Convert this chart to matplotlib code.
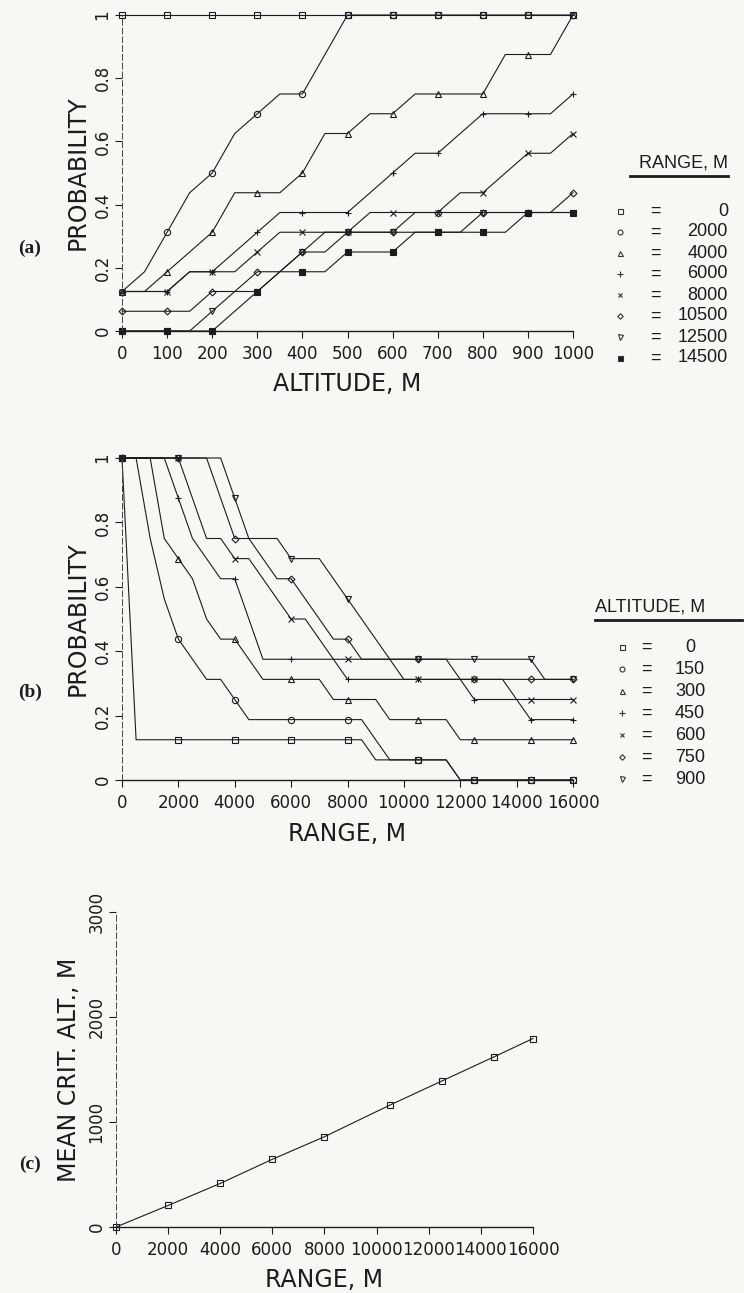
import matplotlib.pyplot as plt
from matplotlib.lines import Line2D
from matplotlib.ticker import FuncFormatter

W, H = 744, 1293
INK = '#1c1c1c'

# ---------------- panel (a): probability vs altitude, one curve per range
alt_a = [0, 50, 100, 150, 200, 250, 300, 350, 400, 450, 500,
         550, 600, 650, 700, 750, 800, 850, 900, 950, 1000]
range_names = ['0', '2000', '4000', '6000', '8000', '10500', '12500', '14500']
# hits out of 16 trials
hits_r0 = [16, 16, 16, 16, 16, 16, 16, 16, 16, 16, 16, 16, 16, 16, 16, 16, 16, 16, 16, 16, 16]
hits_r2000 = [2, 3, 5, 7, 8, 10, 11, 12, 12, 14, 16, 16, 16, 16, 16, 16, 16, 16, 16, 16, 16]
hits_r4000 = [2, 2, 3, 4, 5, 7, 7, 7, 8, 10, 10, 11, 11, 12, 12, 12, 12, 14, 14, 14, 16]
hits_r6000 = [2, 2, 2, 3, 3, 4, 5, 6, 6, 6, 6, 7, 8, 9, 9, 10, 11, 11, 11, 11, 12]
hits_r8000 = [2, 2, 2, 3, 3, 3, 4, 5, 5, 5, 5, 6, 6, 6, 6, 7, 7, 8, 9, 9, 10]
hits_r10500 = [1, 1, 1, 1, 2, 2, 3, 3, 4, 5, 5, 5, 5, 6, 6, 6, 6, 6, 6, 6, 7]
hits_r12500 = [0, 0, 0, 0, 1, 2, 2, 3, 4, 4, 5, 5, 5, 5, 5, 5, 6, 6, 6, 6, 6]
hits_r14500 = [0, 0, 0, 0, 0, 1, 2, 3, 3, 3, 4, 4, 4, 5, 5, 5, 5, 5, 6, 6, 6]
marks_a = [0, 2, 4, 6, 8, 10, 12, 14, 16, 18, 20]

# ---------------- panel (b): probability vs range, one curve per altitude
range_b = [0, 500, 1000, 1500, 2000, 2500, 3000, 3500, 4000, 4500, 5000,
           5500, 6000, 6500, 7000, 7500, 8000, 8500, 9000, 9500, 10000,
           10500, 11000, 11500, 12000, 12500, 13000, 13500, 14000, 14500,
           15000, 15500, 16000]
alt_names = ['0', '150', '300', '450', '600', '750', '900']
hits_a0 = [16, 2, 2, 2, 2, 2, 2, 2, 2, 2, 2, 2, 2, 2, 2, 2, 2,
           2, 1, 1, 1, 1, 1, 1, 0, 0, 0, 0, 0, 0, 0, 0, 0]
hits_a150 = [16, 16, 12, 9, 7, 6, 5, 5, 4, 3, 3, 3, 3, 3, 3, 3, 3,
             3, 2, 1, 1, 1, 1, 1, 0, 0, 0, 0, 0, 0, 0, 0, 0]
hits_a300 = [16, 16, 16, 12, 11, 10, 8, 7, 7, 6, 5, 5, 5, 5, 5, 4, 4,
             4, 4, 3, 3, 3, 3, 3, 2, 2, 2, 2, 2, 2, 2, 2, 2]
hits_a450 = [16, 16, 16, 16, 14, 12, 11, 10, 10, 8, 6, 6, 6, 6, 6, 6, 5,
             5, 5, 5, 5, 5, 5, 5, 5, 4, 4, 4, 4, 3, 3, 3, 3]
hits_a600 = [16, 16, 16, 16, 16, 14, 12, 12, 11, 11, 10, 9, 8, 8, 7, 6, 6,
             6, 6, 6, 5, 5, 5, 5, 5, 5, 5, 5, 4, 4, 4, 4, 4]
hits_a750 = [16, 16, 16, 16, 16, 16, 16, 14, 12, 12, 11, 10, 10, 9, 8, 7, 7,
             6, 6, 6, 6, 6, 6, 6, 5, 5, 5, 5, 5, 5, 5, 5, 5]
hits_a900 = [16, 16, 16, 16, 16, 16, 16, 16, 14, 12, 12, 12, 11, 11, 11, 10, 9,
             8, 7, 6, 6, 6, 6, 6, 6, 6, 6, 6, 6, 6, 5, 5, 5]
marks_b = [0, 4, 8, 12, 16, 21, 25, 29, 32]

# ---------------- panel (c): mean critical altitude vs range
range_c = [0, 2000, 4000, 6000, 8000, 10500, 12500, 14500, 16000]
mean_alt_c = [0, 205, 415, 645, 860, 1160, 1390, 1620, 1795]

marker_styles = [
    dict(marker='s', mfc='none', ms=4.5),
    dict(marker='o', mfc='none', ms=4.5),
    dict(marker='^', mfc='none', ms=4.5),
    dict(marker='+', ms=5),
    dict(marker='x', ms=4),
    dict(marker='D', mfc='none', ms=3.5),
    dict(marker='v', mfc='none', ms=4.5),
    dict(marker='s', mfc=INK, ms=4.5),
]

fig = plt.figure(figsize=(W / 100, H / 100), dpi=100)
fig.patch.set_facecolor('#f7f7f4')


def px_axes(left, top, right, bottom):
    return fig.add_axes([left / W, 1 - bottom / H, (right - left) / W, (bottom - top) / H])


def style_axes(ax):
    ax.set_facecolor('none')
    for s in ['top', 'right']:
        ax.spines[s].set_visible(False)
    ax.spines['bottom'].set_linewidth(1.0)
    ax.spines['bottom'].set_color(INK)
    ax.spines['left'].set_linewidth(0.7)
    ax.spines['left'].set_color('#444444')
    ax.spines['left'].set_linestyle((0, (6, 3)))
    ax.tick_params(direction='out', length=5, width=0.8, colors=INK, labelsize=12)
    ax.tick_params(axis='x', pad=5)
    ax.tick_params(axis='y', pad=2.5, labelrotation=90)
    for lab in ax.get_yticklabels():
        lab.set_va('center')


def fig_text(x, y, s, **kw):
    fig.text(x / W, 1 - y / H, s, **kw)


def legend_block(title, names, styles, title_x, title_ha, line_x0, line_x1, title_y,
                 row_y0, row_dy, mx, eqx, numx, num_ha):
    fig_text(title_x, title_y, title, ha=title_ha, va='center', fontsize=13,
             family='Liberation Sans', color=INK)
    fig.add_artist(Line2D([line_x0 / W, line_x1 / W],
                          [1 - (title_y + 13) / H, 1 - (title_y + 13) / H],
                          color=INK, lw=2))
    for i, name in enumerate(names):
        y = row_y0 + i * row_dy
        st = dict(styles[i])
        st['ms'] = st['ms'] * 0.8
        fig.add_artist(Line2D([mx / W], [1 - y / H], color='#333333', mec='#333333',
                              mew=0.8, ls='none', **st))
        fig_text(eqx, y, '=', ha='center', va='center', fontsize=13,
                 family='Liberation Sans', color=INK)
        fig_text(numx, y, name, ha=num_ha, va='center', fontsize=13,
                 family='Liberation Sans', color=INK)


fmt = FuncFormatter(lambda v, p: '%g' % v)

# ---- (a)
ax_a = px_axes(122, 15, 573, 331)
series_a = [hits_r0, hits_r2000, hits_r4000, hits_r6000,
            hits_r8000, hits_r10500, hits_r12500, hits_r14500]
for hits, st in zip(series_a, marker_styles):
    ax_a.plot(alt_a, [h / 16 for h in hits], color=INK, lw=0.8, mec=INK, mew=0.8,
              markevery=marks_a, clip_on=False, **st)
ax_a.set_xlim(0, 1000)
ax_a.set_ylim(0, 1)
ax_a.set_xticks([0, 100, 200, 300, 400, 500, 600, 700, 800, 900, 1000])
ax_a.set_yticks([0, 0.2, 0.4, 0.6, 0.8, 1])
ax_a.yaxis.set_major_formatter(fmt)
style_axes(ax_a)
ax_a.set_xlabel('ALTITUDE, M', fontsize=17, color=INK)
ax_a.xaxis.set_label_coords(0.5, -0.13)
ax_a.set_ylabel('PROBABILITY', fontsize=17, color=INK)
ax_a.yaxis.set_label_coords(-0.072, 0.5)

# ---- (b)
ax_b = px_axes(122, 458, 573, 780)
series_b = [hits_a0, hits_a150, hits_a300, hits_a450, hits_a600, hits_a750, hits_a900]
for hits, st in zip(series_b, marker_styles):
    ax_b.plot(range_b, [h / 16 for h in hits], color=INK, lw=0.8, mec=INK, mew=0.8,
              markevery=marks_b, clip_on=False, **st)
ax_b.set_xlim(0, 16000)
ax_b.set_ylim(0, 1)
ax_b.set_xticks([0, 2000, 4000, 6000, 8000, 10000, 12000, 14000, 16000])
ax_b.set_yticks([0, 0.2, 0.4, 0.6, 0.8, 1])
ax_b.yaxis.set_major_formatter(fmt)
style_axes(ax_b)
ax_b.set_xlabel('RANGE, M', fontsize=17, color=INK)
ax_b.xaxis.set_label_coords(0.5, -0.13)
ax_b.set_ylabel('PROBABILITY', fontsize=17, color=INK)
ax_b.yaxis.set_label_coords(-0.072, 0.5)

# ---- (c)
ax_c = px_axes(116, 912, 533, 1227)
ax_c.plot(range_c, mean_alt_c, color=INK, lw=0.8, marker='s', mfc='none', ms=4.5,
          mec=INK, mew=0.8, clip_on=False)
ax_c.set_xlim(0, 16000)
ax_c.set_ylim(0, 3000)
ax_c.set_xticks([0, 2000, 4000, 6000, 8000, 10000, 12000, 14000, 16000])
ax_c.set_yticks([0, 1000, 2000, 3000])
style_axes(ax_c)
ax_c.set_xlabel('RANGE, M', fontsize=17, color=INK)
ax_c.xaxis.set_label_coords(0.5, -0.13)
ax_c.set_ylabel('MEAN CRIT. ALT., M', fontsize=17, color=INK)
ax_c.yaxis.set_label_coords(-0.085, 0.5)

# ---- legends
legend_block('RANGE, M', range_names, marker_styles, 728, 'right', 630, 728, 163,
             211, 21, 620, 655, 728, 'right')
legend_block('ALTITUDE, M', alt_names, marker_styles, 595, 'left', 595, 742, 607,
             647, 22, 622, 646, 690, 'center')

# ---- panel tags
for tag, y in [('(a)', 248), ('(b)', 692), ('(c)', 1164)]:
    fig_text(30, y, tag, ha='center', va='center', fontsize=14, weight='bold',
             family='Liberation Serif', color=INK)

fig.savefig('out.png', dpi=100, facecolor=fig.get_facecolor())
